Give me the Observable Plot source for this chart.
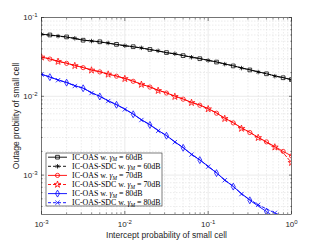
<!DOCTYPE html>
<html>
<head>
<meta charset="utf-8">
<script src="https://cdn.jsdelivr.net/npm/d3@7"></script>
<script src="https://cdn.jsdelivr.net/npm/@observablehq/plot@0.6"></script>
<style>
  html, body { margin: 0; padding: 0; background: #fff; }
</style>
</head>
<body>
<div id="chart"></div>
<script>
// Intercept probability (x) sample points
const xs = [0.001, 0.00126, 0.00158, 0.002, 0.00251, 0.00316, 0.00398, 0.00501, 0.00631, 0.00794,
            0.01, 0.0126, 0.0158, 0.02, 0.0251, 0.0316, 0.0398, 0.0501, 0.0631, 0.0794,
            0.1, 0.126, 0.158, 0.2, 0.251, 0.316, 0.398, 0.501, 0.631, 0.794, 1.0];

// Outage probability series
const oas60 = [0.0614,0.0600,0.0584,0.0567,0.0540,0.0515,0.0505,0.0492,0.0472,0.0456,0.0440,0.0426,0.0410,0.0393,0.0376,0.0359,0.0345,0.0328,0.0315,0.0300,0.0287,0.0272,0.0258,0.0243,0.0230,0.0216,0.0205,0.0193,0.0182,0.0172,0.0163];
const sdc60 = [0.0612,0.0596,0.0580,0.0563,0.0545,0.0518,0.0502,0.0488,0.0475,0.0452,0.0438,0.0423,0.0412,0.0390,0.0378,0.0356,0.0347,0.0330,0.0313,0.0302,0.0285,0.0274,0.0256,0.0245,0.0228,0.0218,0.0203,0.0195,0.0180,0.0173,0.0162];
const oas70 = [0.0316,0.0297,0.0279,0.0262,0.0247,0.0231,0.0217,0.0204,0.0192,0.0180,0.0169,0.0155,0.0143,0.0131,0.0120,0.0110,0.0101,0.0092,0.0084,0.0077,0.0070,0.0061,0.0053,0.0046,0.0040,0.00347,0.00302,0.00264,0.00230,0.00200,0.00175];
const sdc70 = [0.0313,0.0300,0.0276,0.0265,0.0244,0.0234,0.0214,0.0206,0.0190,0.0182,0.0167,0.0157,0.0141,0.0133,0.0118,0.0112,0.0099,0.0093,0.0083,0.0078,0.0069,0.0062,0.0052,0.0047,0.0039,0.00352,0.00298,0.00260,0.00226,0.00192,0.00144];
const oas80 = [0.0191,0.0175,0.0162,0.0149,0.0137,0.01265,0.0112,0.00993,0.00881,0.00780,0.00692,0.00592,0.00506,0.00433,0.00370,0.00316,0.00265,0.00222,0.00185,0.00155,0.00130,0.00106,0.00087,0.000714,0.000585,0.000479,0.000405,0.000345,0.000290,0.000250,0.000215];
const sdc80 = [0.0189,0.0177,0.0160,0.0151,0.0135,0.0128,0.0110,0.0101,0.00870,0.00790,0.00682,0.00600,0.00500,0.00440,0.00365,0.00320,0.00262,0.00225,0.00182,0.00157,0.00128,0.00108,0.00086,0.000725,0.000575,0.000490,0.000420,0.000372,0.000331,0.000300,0.000270];

// Series metadata
const seriesPrefix = ["IC-OAS w. ", "IC-OAS-SDC w. ", "IC-OAS w. ", "IC-OAS-SDC w. ", "IC-OAS w. ", "IC-OAS-SDC w. "];
const seriesDb = ["60dB", "60dB", "70dB", "70dB", "80dB", "80dB"];
const seriesValues = [oas60, sdc60, oas70, sdc70, oas80, sdc80];
const seriesColors = ["#000000", "#000000", "#ff0000", "#ff0000", "#0000ff", "#0000ff"];
const seriesSymbols = ["square", "asterisk", "circle", "star", "diamond", "times"];
const seriesDashed = [false, true, false, true, false, true];

// Tick values
const xMajor = [1e-3, 1e-2, 1e-1, 1];
const yMajor = [1e-3, 1e-2, 1e-1];
const xMinor = [];
for (let e = -3; e < 0; e++) for (let m = 2; m <= 9; m++) xMinor.push(m * 10 ** e);
const yMinor = [];
for (let e = -4; e < -1; e++) for (let m = 2; m <= 9; m++) { const v = m * 10 ** e; if (v >= 10 ** -3.5 && v <= 0.1) yMinor.push(v); }

const xLabel = "Intercept probability of small cell";
const yLabel = "Outage probility of small cell";

const symbolMap = {square: d3.symbolSquare, asterisk: d3.symbolAsterisk, circle: d3.symbolCircle,
                   star: d3.symbolStar, diamond: d3.symbolDiamond, times: d3.symbolTimes};
const R = 2.1;

const seriesMarks = [];
seriesValues.forEach((vals, i) => {
  const data = xs.map((x, j) => ({x, y: vals[j], j}));
  const c = seriesColors[i];
  const parity = seriesDashed[i] ? 0 : 1; // markers alternate between paired series
  seriesMarks.push(Plot.line(data, {x: "x", y: "y", stroke: c, strokeWidth: 0.9,
    strokeDasharray: seriesDashed[i] ? "3,2" : null, clip: true}));
  seriesMarks.push(Plot.dot(data.filter(d => d.j % 2 === parity || d.j === xs.length - 1),
    {x: "x", y: "y", symbol: () => seriesSymbols[i], r: R,
    stroke: c, fill: "none", strokeWidth: 0.75, clip: true}));
});

const fmt = d => "10^" + Math.round(Math.log10(d));

const svg = Plot.plot({
  width: 321,
  height: 241,
  marginLeft: 41,
  marginRight: 30,
  marginTop: 17,
  marginBottom: 27,
  style: {fontFamily: "'Liberation Sans', Arial, sans-serif", fontSize: "8px", color: "#262626", background: "#fff"},
  x: {type: "log", domain: [1e-3, 1]},
  y: {type: "log", domain: [10 ** -3.5, 1e-1]},
  marks: [
    Plot.ruleX(xMinor, {stroke: "#d8d8d8", strokeWidth: 0.5, strokeDasharray: "1.5,1.5"}),
    Plot.ruleY(yMinor, {stroke: "#d8d8d8", strokeWidth: 0.5, strokeDasharray: "1.5,1.5"}),
    Plot.ruleX(xMajor, {stroke: "#d6d6d6", strokeWidth: 0.5}),
    Plot.ruleY(yMajor, {stroke: "#d6d6d6", strokeWidth: 0.5}),
    ...seriesMarks,
    Plot.frame({stroke: "#262626", strokeWidth: 0.6}),
    Plot.axisX(xMajor, {anchor: "bottom", tickSize: 0, tickPadding: 7, tickFormat: fmt, label: null}),
    Plot.axisY(yMajor, {anchor: "left", tickSize: 0, tickPadding: 4, tickFormat: fmt, label: null}),
    Plot.axisX(xMajor, {anchor: "bottom", tickSize: -3, text: null, label: null, stroke: "#262626", strokeWidth: 0.6}),
    Plot.axisX(xMajor, {anchor: "top", tickSize: -3, text: null, label: null, stroke: "#262626", strokeWidth: 0.6}),
    Plot.axisX(xMinor, {anchor: "bottom", tickSize: -1.6, text: null, label: null, stroke: "#262626", strokeWidth: 0.5}),
    Plot.axisX(xMinor, {anchor: "top", tickSize: -1.6, text: null, label: null, stroke: "#262626", strokeWidth: 0.5}),
    Plot.axisY(yMajor, {anchor: "left", tickSize: -3, text: null, label: null, stroke: "#262626", strokeWidth: 0.6}),
    Plot.axisY(yMajor, {anchor: "right", tickSize: -3, text: null, label: null, stroke: "#262626", strokeWidth: 0.6}),
    Plot.axisY(yMinor, {anchor: "left", tickSize: -1.6, text: null, label: null, stroke: "#262626", strokeWidth: 0.5}),
    Plot.axisY(yMinor, {anchor: "right", tickSize: -1.6, text: null, label: null, stroke: "#262626", strokeWidth: 0.5}),
    Plot.text([xLabel], {frameAnchor: "bottom", dy: 23, fontSize: 8.5, fill: "#262626"}),
    Plot.text([yLabel], {frameAnchor: "left", rotate: -90, dx: -25, textAnchor: "middle", fontSize: 8.5, fill: "#262626"})
  ]
});

document.getElementById("chart").appendChild(svg);

// Render tick labels as 10 with a superscript exponent
d3.select(svg).selectAll("text").each(function() {
  const t = d3.select(this);
  const s = t.text();
  const m = /^10\^(-?\d+)$/.exec(s);
  if (!m) return;
  t.text("10");
  t.append("tspan").attr("dy", "-0.45em").attr("font-size", "6px").text(m[1]);
});

// Legend (inside plot, bottom-left)
const lg = d3.select(svg).append("g").attr("class", "legend").attr("text-anchor", "start");
const lx = 46, ly = 153, lw = 116, lh = 53, rowH = 9.1;
lg.append("rect").attr("x", lx).attr("y", ly).attr("width", lw).attr("height", lh)
  .attr("fill", "#fff").attr("stroke", "#262626").attr("stroke-width", 0.6);
seriesPrefix.forEach((prefix, i) => {
  const cy = ly + 4.2 + i * rowH;
  const c = seriesColors[i];
  lg.append("line").attr("x1", lx + 2).attr("x2", lx + 21).attr("y1", cy).attr("y2", cy)
    .attr("stroke", c).attr("stroke-width", 0.9)
    .attr("stroke-dasharray", seriesDashed[i] ? "3,2" : null);
  const sym = seriesSymbols[i];
  lg.append("path").attr("transform", `translate(${lx + 11.5},${cy})`)
    .attr("d", d3.symbol(symbolMap[sym], Math.PI * R * R)())
    .attr("fill", "none").attr("stroke", c).attr("stroke-width", 0.8);
  const tx = lg.append("text").attr("x", lx + 26).attr("y", cy).attr("dy", "0.33em")
    .attr("text-anchor", "start")
    .attr("font-family", "'Liberation Serif', 'DejaVu Serif', serif").attr("font-size", "7.9px")
    .attr("fill", "#000");
  tx.append("tspan").text(prefix);
  tx.append("tspan").attr("font-style", "italic").text("γ");
  tx.append("tspan").attr("font-style", "italic").attr("font-size", "5.4px").attr("dy", "1.5").text("M");
  tx.append("tspan").attr("dy", "-1.5").text(" = " + seriesDb[i]);
});
</script>
</body>
</html>
